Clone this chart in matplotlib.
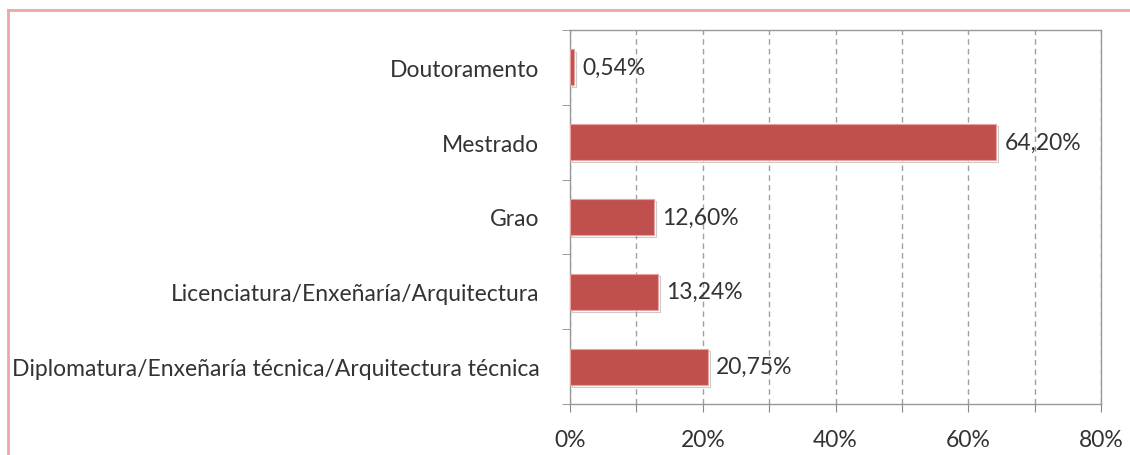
import matplotlib.pyplot as plt
import matplotlib.patheffects as pe

categories = ["Diplomatura/Enxeñaría técnica/Arquitectura técnica",
              "Licenciatura/Enxeñaría/Arquitectura",
              "Grao",
              "Mestrado",
              "Doutoramento"]
values = [20.75, 13.24, 12.60, 64.20, 0.54]
value_labels = ["20,75%", "13,24%", "12,60%", "64,20%", "0,54%"]
x_ticks = [0, 20, 40, 60, 80]

plt.rcParams['font.family'] = ['Lato', 'DejaVu Sans']
FS = 16.5

fig = plt.figure(figsize=(11.3, 4.56), dpi=100)
ax = fig.add_axes([570 / 1130, 1 - 405 / 456, 531 / 1130, 374 / 456])

# pinkish outer frame (only top and left visible)
fig.add_artist(plt.Line2D([8 / 1130, 1.0], [1 - 11 / 456, 1 - 11 / 456],
                          color="#E8A8A8", lw=2, transform=fig.transFigure))
fig.add_artist(plt.Line2D([8 / 1130, 8 / 1130], [0, 1 - 11 / 456],
                          color="#E8A8A8", lw=2, transform=fig.transFigure))

ypos = list(range(len(categories)))
ax.barh(ypos, values, height=0.48, color="#C0504D",
        edgecolor="#E8A0A0", linewidth=0.8, zorder=3,
        path_effects=[pe.SimpleLineShadow(offset=(1.5, -1.5), shadow_color="#999999", alpha=0.5),
                      pe.Normal()])

for y, v, lab in zip(ypos, values, value_labels):
    ax.text(v + 1.3, y, lab, va="center", ha="left", fontsize=FS, color="#333333")

ax.set_xlim(0, 80)
ax.set_ylim(-0.5, len(categories) - 0.5)

ax.set_xticks(range(0, 81, 10))
ax.set_xticklabels([f"{t}%" if t in x_ticks else "" for t in range(0, 81, 10)],
                   fontsize=FS, color="#333333")
ax.xaxis.grid(True, linestyle=(0, (4, 3)), color="#A0A0A0", linewidth=1, zorder=0)

ax.set_yticks(ypos)
ax.set_yticklabels(categories, fontsize=FS, color="#333333")
ax.set_yticks([i + 0.5 for i in range(-1, len(categories))], minor=True)
ax.tick_params(axis="y", which="major", length=0, pad=22)
ax.tick_params(axis="y", which="minor", length=6, color="#888888", direction="out")
ax.tick_params(axis="x", length=6, color="#888888", direction="out", pad=12)

for s in ax.spines.values():
    s.set_color("#999999")
    s.set_linewidth(1)

fig.savefig("out.png", dpi=100, facecolor="white")
